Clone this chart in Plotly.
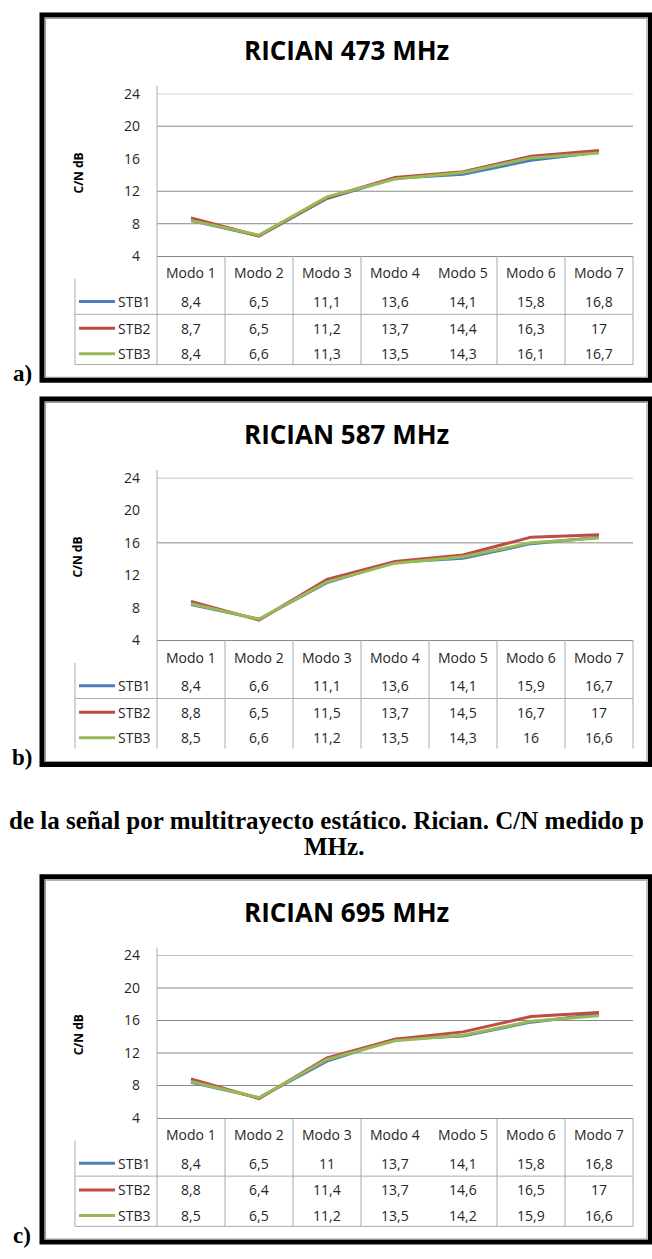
import plotly.graph_objects as go

W, H = 652, 1259

# ---------------- data ----------------
modes = ["Modo 1", "Modo 2", "Modo 3", "Modo 4", "Modo 5", "Modo 6", "Modo 7"]
series_names = ["STB1", "STB2", "STB3"]

stb1_473 = [8.4, 6.5, 11.1, 13.6, 14.1, 15.8, 16.8]
stb2_473 = [8.7, 6.5, 11.2, 13.7, 14.4, 16.3, 17]
stb3_473 = [8.4, 6.6, 11.3, 13.5, 14.3, 16.1, 16.7]

stb1_587 = [8.4, 6.6, 11.1, 13.6, 14.1, 15.9, 16.7]
stb2_587 = [8.8, 6.5, 11.5, 13.7, 14.5, 16.7, 17]
stb3_587 = [8.5, 6.6, 11.2, 13.5, 14.3, 16, 16.6]

stb1_695 = [8.4, 6.5, 11, 13.7, 14.1, 15.8, 16.8]
stb2_695 = [8.8, 6.4, 11.4, 13.7, 14.6, 16.5, 17]
stb3_695 = [8.5, 6.5, 11.2, 13.5, 14.2, 15.9, 16.6]

titles = ["RICIAN 473 MHz", "RICIAN 587 MHz", "RICIAN 695 MHz"]
panel_labels = ["a)", "b)", "c)"]
y_title = "C/N dB"
y_ticks = [4, 8, 12, 16, 20, 24]
grid_473 = [8, 12, 20, 24]
grid_587 = [16, 24]
grid_695 = [8, 12, 16, 20, 24]
caption_line1 = "de la señal por multitrayecto estático. Rician. C/N medido p"
caption_line2 = "MHz."

panels = [
    (titles[0], [stb1_473, stb2_473, stb3_473], grid_473),
    (titles[1], [stb1_587, stb2_587, stb3_587], grid_587),
    (titles[2], [stb1_695, stb2_695, stb3_695], grid_695),
]

# ---------------- styling / layout ----------------
colors = ["#4a7ebb", "#be4b48", "#98b954"]
panel_tops = [3, 393, 878]
hidden_sep = [[4], [], [4]]
bottom_line = [True, False, True]
row_offsets = [293, 320, 346]
SANS = "Open Sans"
SERIF = "Liberation Serif"
TXT = "#262626"
TABLE_LINE = "#a9a9a9"
GRID = "#8a8a8a"

PX0, PX1 = 157, 633
COLW = (PX1 - PX0) / 7


def fx(px):
    return px / W


def fy(py):
    return 1 - py / H


def fmt(v):
    return f"{v:g}".replace(".", ",")


fig = go.Figure()
shapes = []
annotations = []
layout_axes = {}

for i, (title, series, grid) in enumerate(panels):
    T = panel_tops[i]
    n = "" if i == 0 else str(i + 1)
    xref, yref = f"x{n}", f"y{n}"

    for s, vals in enumerate(series):
        fig.add_trace(go.Scatter(
            x=modes, y=vals, mode="lines", name=series_names[s],
            line=dict(color=colors[s], width=3),
            xaxis=xref, yaxis=yref, showlegend=False, hoverinfo="skip",
        ))

    layout_axes[f"xaxis{n}"] = dict(
        domain=[fx(PX0), fx(PX1)], range=[-0.5, 6.5], type="category",
        showticklabels=False, showgrid=False, zeroline=False,
        showline=True, linecolor=GRID, linewidth=1, anchor=yref,
        ticks="", fixedrange=True,
    )
    layout_axes[f"yaxis{n}"] = dict(
        domain=[fy(T + 247), fy(T + 82)], range=[4, 24],
        tickvals=y_ticks, showgrid=False, zeroline=False, showline=False,
        ticks="", ticklabelstandoff=16, anchor=xref, fixedrange=True,
        tickfont=dict(family=SANS, size=14, color=TXT),
    )

    # gridlines
    for g in grid:
        shapes.append(dict(type="line", xref=f"{xref} domain", yref=yref,
                           x0=0, x1=1, y0=g, y1=g, layer="below",
                           line=dict(color=GRID, width=1)))

    # outer black frame + inner gray chart border
    shapes.append(dict(type="rect", xref="paper", yref="paper",
                       x0=fx(42), x1=fx(650.5), y0=fy(T + 373), y1=fy(T + 2),
                       line=dict(color="black", width=5)))
    shapes.append(dict(type="rect", xref="paper", yref="paper",
                       x0=fx(45.5), x1=fx(647), y0=fy(T + 370), y1=fy(T + 5.5),
                       line=dict(color="#9a9a9a", width=1.2)))

    # table lines
    for k in range(8):
        if k in hidden_sep[i]:
            continue
        x = PX0 + COLW * k
        ytop = T + 74 if k == 0 else T + 247
        shapes.append(dict(type="line", xref="paper", yref="paper",
                           x0=fx(x), x1=fx(x), y0=fy(ytop), y1=fy(T + 357),
                           line=dict(color=TABLE_LINE, width=1)))
    shapes.append(dict(type="line", xref="paper", yref="paper",
                       x0=fx(75), x1=fx(75), y0=fy(T + 270), y1=fy(T + 357),
                       line=dict(color=TABLE_LINE, width=1)))
    shapes.append(dict(type="line", xref="paper", yref="paper",
                       x0=fx(75), x1=fx(PX1), y0=fy(T + 306), y1=fy(T + 306),
                       line=dict(color=TABLE_LINE, width=1)))
    if bottom_line[i]:
        shapes.append(dict(type="line", xref="paper", yref="paper",
                           x0=fx(75), x1=fx(PX1), y0=fy(T + 357), y1=fy(T + 357),
                           line=dict(color=TABLE_LINE, width=1)))

    # title
    annotations.append(dict(text=title, xref="paper", yref="paper",
                            x=fx(346), y=fy(T + 38), showarrow=False,
                            xanchor="center", yanchor="middle",
                            font=dict(family=SANS, size=26, color="black", weight="bold")))
    # y-axis title
    annotations.append(dict(text=f"<b>{y_title}</b>", xref="paper", yref="paper",
                            x=fx(78), y=fy(T + 163), showarrow=False, textangle=-90,
                            xanchor="center", yanchor="middle",
                            font=dict(family=SANS, size=12, color="black")))
    # table header
    for m in modes:
        annotations.append(dict(text=m, xref=xref, yref="paper", x=m, y=fy(T + 264),
                                showarrow=False, xanchor="center", yanchor="middle",
                                font=dict(family=SANS, size=14, color=TXT)))
    # table rows
    for s, vals in enumerate(series):
        ry = T + row_offsets[s]
        shapes.append(dict(type="line", xref="paper", yref="paper",
                           x0=fx(79), x1=fx(115), y0=fy(ry), y1=fy(ry),
                           line=dict(color=colors[s], width=3)))
        annotations.append(dict(text=series_names[s], xref="paper", yref="paper",
                                x=fx(116), y=fy(ry), showarrow=False,
                                xanchor="left", yanchor="middle",
                                font=dict(family=SANS, size=14, color=TXT)))
        for m, v in zip(modes, vals):
            annotations.append(dict(text=fmt(v), xref=xref, yref="paper", x=m, y=fy(ry),
                                    showarrow=False, xanchor="center", yanchor="middle",
                                    font=dict(family=SANS, size=14, color=TXT)))
    # panel label
    annotations.append(dict(text=f"<b>{panel_labels[i]}</b>", xref="paper", yref="paper",
                            x=fx(22), y=fy(T + 366), showarrow=False,
                            xanchor="center", yanchor="middle",
                            font=dict(family=SERIF, size=23, color="black")))

# caption
annotations.append(dict(text=f"<b>{caption_line1}</b>", xref="paper", yref="paper",
                        x=fx(326), y=fy(823), showarrow=False,
                        xanchor="center", yanchor="middle",
                        font=dict(family=SERIF, size=25, color="black")))
annotations.append(dict(text=f"<b>{caption_line2}</b>", xref="paper", yref="paper",
                        x=fx(334), y=fy(849), showarrow=False,
                        xanchor="center", yanchor="middle",
                        font=dict(family=SERIF, size=25, color="black")))

fig.update_layout(
    width=W, height=H,
    margin=dict(l=0, r=0, t=0, b=0),
    paper_bgcolor="white", plot_bgcolor="rgba(0,0,0,0)",
    showlegend=False,
    shapes=shapes, annotations=annotations,
    **layout_axes,
)

fig.write_html("out.html", config={"displayModeBar": False},
               post_script="document.body.style.margin='0';document.body.style.overflow='hidden';")
